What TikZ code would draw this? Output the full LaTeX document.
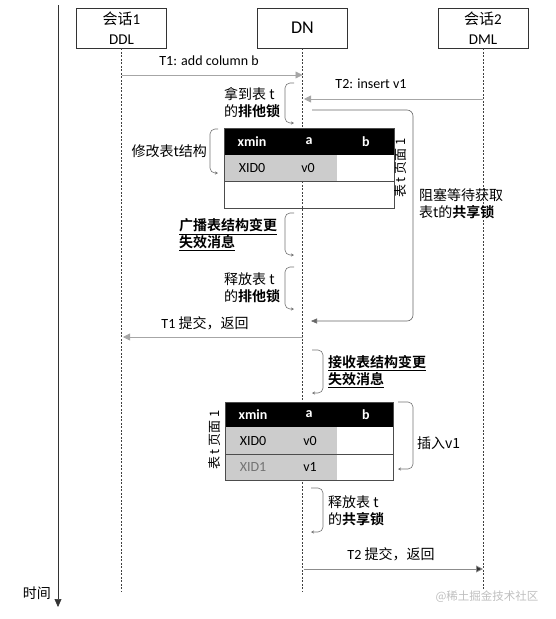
\documentclass[tikz,border=0pt]{standalone}
\usepackage{fontspec}
\setmainfont{Carlito}
\newfontfamily\cjk{Noto Sans CJK SC}[BoldFont={Noto Sans CJK SC Bold}]
\newcommand\zh[1]{{\cjk #1}}
\usetikzlibrary{arrows.meta}

\tikzset{
  actor/.style={draw=black!80,semithick,minimum width=90pt,minimum height=40pt,align=center,inner sep=0pt,font=\fontsize{15}{20}\selectfont},
  life/.style={black!75,dash pattern=on 2pt off 1.5pt},
  msg/.style={black!35,thick,-{Triangle[length=7pt,width=7pt]}},
  brace/.style={black!55,semithick,rounded corners=5pt,-{Stealth[length=3pt,width=3pt]}},
  note/.style={align=left,inner sep=0pt,font=\fontsize{14}{17}\selectfont\cjk},
  lbl/.style={inner sep=0pt,font=\fontsize{14}{17}\selectfont},
  cell/.style={inner sep=0pt,font=\fontsize{14}{16}\selectfont},
  hd/.style={cell,text=white,font=\fontsize{14}{16}\selectfont\bfseries},
  pg/.style={inner sep=0pt,rotate=90,font=\fontsize{13}{15}\selectfont\cjk},
}

\begin{document}
\begin{tikzpicture}[x=1pt,y=-1pt]
	\useasboundingbox (0,0) rectangle (555,619);

	% 时间轴
	\coordinate (t0) at (58,5);
	\coordinate (t1) at (58,607);
	\draw[black!80,semithick,-{Triangle[length=8pt,width=7pt]}] (t0) -- (t1);
	\node[lbl] (time) at (37,593) {\zh{时间}};

	% 参与者
	\node[actor] (ddl) at (121.5,28) {\zh{会话}1\\DDL};
	\node[actor,font=\fontsize{18}{20}\selectfont] (dn) at (302.5,28) {DN};
	\node[actor] (dml) at (483,28) {\zh{会话}2\\DML};

	% 生命线
	\coordinate (ddl-end) at (121.5,592);
	\coordinate (dn-end) at (302.5,592);
	\coordinate (dml-end) at (483,590);
	\draw[life] (ddl) -- (ddl-end);
	\draw[life] (dn) -- (dn-end);
	\draw[life] (dml) -- (dml-end);

	% 消息
	\coordinate (m1a) at (121.5,75);  \coordinate (m1b) at (302.5,75);
	\coordinate (m2a) at (483,99);    \coordinate (m2b) at (304,99);
	\coordinate (m3a) at (302.5,337); \coordinate (m3b) at (123,337);
	\coordinate (m4a) at (304,569);   \coordinate (m4b) at (483,569);
	\draw[msg] (m1a) -- (m1b);
	\draw[msg] (m2a) -- (m2b);
	\draw[msg] (m3a) -- (m3b);
	\draw[black!45,thick,-{Triangle[length=7pt,width=7pt,fill=black!80]}] (m4a) -- (m4b);
	\node[lbl] (m1) at (209,61) {T1: add column b};
	\node[lbl] (m2) at (371,84) {T2: insert v1};
	\node[lbl] (m3) at (205,323) {T1 \zh{提交，返回}};
	\node[lbl] (m4) at (391,554) {T2 \zh{提交，返回}};

	% 阻塞
	\coordinate (w1) at (312,110);
	\coordinate (w2) at (311,321);
	\draw[black!60,semithick,rounded corners=6pt,-{Triangle[length=6pt,width=5pt]}] (w1) -- (413,110) -- (413,321) -- (w2);
	\node[note,anchor=west] (wait) at (419,204) {阻塞等待获取\\表t的\textbf{共享锁}};

	% 表 t 页面 1 (上)
	\fill[black!20] (224,155) rectangle (337,181);
	\fill[black] (224,128) rectangle (394,155);
	\draw[black!70] (224,128) rectangle (394,208);
	\draw[black!70] (224,181) -- (394,181);
	\node[hd] (ta-x) at (252,141.5) {xmin};
	\node[hd] (ta-a) at (309,141.5) {a};
	\node[hd] (ta-b) at (366,141.5) {b};
	\node[cell] (ta-r1) at (252,168) {XID0};
	\node[cell] (ta-v1) at (308,168) {v0};
	\node[pg] (pg1) at (401,168) {表 t 页面 1};

	% 表 t 页面 1 (下)
	\fill[black!20] (225,427) rectangle (337,480);
	\fill[black] (225,402) rectangle (393,427);
	\draw[black!70] (225,402) rectangle (393,480);
	\draw[black!70] (225,454) -- (393,454);
	\node[hd] (tb-x) at (253,414.5) {xmin};
	\node[hd] (tb-a) at (309,414.5) {a};
	\node[hd] (tb-b) at (366,414.5) {b};
	\node[cell] (tb-r1) at (253,440.5) {XID0};
	\node[cell] (tb-v1) at (310,440.5) {v0};
	\node[cell,text=black!55] (tb-r2) at (253,467) {XID1};
	\node[cell] (tb-v2) at (310,467) {v1};
	\node[pg] (pg2) at (215,440) {表 t 页面 1};

	% 括号
	\draw[brace] (294,83) -- (285,83) -- (285,123) -- (294,123);
	\draw[brace] (218,129) -- (210,129) -- (210,173) -- (218,173);
	\draw[brace] (294,213) -- (285,213) -- (285,255) -- (294,255);
	\draw[brace] (294,267) -- (285,267) -- (285,309) -- (294,309);
	\draw[brace] (312,350) -- (323,350) -- (323,393) -- (312,393);
	\draw[brace] (398,402) -- (413,402) -- (413,469) -- (398,469);
	\draw[brace] (311,488) -- (323,488) -- (323,532) -- (311,532);

	\node[note,anchor=west] (n1) at (224,103) {拿到表 t\\的\textbf{排他锁}};
	\node[note,anchor=east] (n2) at (207,151) {修改表t结构};
	\node[note,anchor=west] (n3) at (179,235) {\bfseries\underline{广播表结构变更}\\\bfseries\underline{失效消息}};
	\node[note,anchor=west] (n4) at (224,288) {释放表 t\\的\textbf{排他锁}};
	\node[note,anchor=west] (n5) at (328,372) {\bfseries\underline{接收表结构变更}\\\bfseries\underline{失效消息}};
	\node[note,anchor=west] (n6) at (417,443) {插入v1};
	\node[note,anchor=west] (n7) at (328,511) {释放表 t\\的\textbf{共享锁}};

	% 水印
	\node[note,font=\fontsize{11.5}{13}\selectfont\cjk,text=black!25] (wm) at (487,597) {@稀土掘金技术社区};
\end{tikzpicture}
\end{document}
